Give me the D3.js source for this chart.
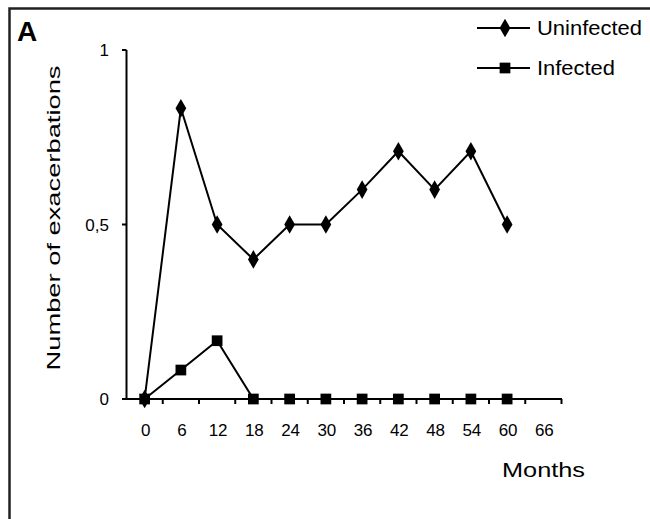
<!DOCTYPE html>
<html><head><meta charset="utf-8">
<script src="https://cdn.jsdelivr.net/npm/d3@7"></script>
<style>body{margin:0;background:#fff}svg{display:block}text{font-family:Arial,"Liberation Sans",sans-serif;fill:#000}</style>
</head><body><svg id="c" width="650" height="519"></svg>
<script>
const months = [0, 6, 12, 18, 24, 30, 36, 42, 48, 54, 60, 66];
const uninfected = [0, 0.833, 0.5, 0.4, 0.5, 0.5, 0.6, 0.71, 0.6, 0.71, 0.5];
const infected = [0, 0.083, 0.167, 0, 0, 0, 0, 0, 0, 0, 0];
const yTicks = [0, 0.5, 1];
const yTickLabels = ["0", "0,5", "1"];
const seriesNames = ["Uninfected", "Infected"];

const svg = d3.select("#c");
svg.append("rect").attr("x", 9.5).attr("y", 8.5).attr("width", 700).attr("height", 600)
  .attr("fill", "none").attr("stroke", "#222").attr("stroke-width", 2.5);

const x = d3.scaleBand().domain(months).range([126.5, 561.5]).paddingInner(0).paddingOuter(0);
const y = d3.scaleLinear().domain([0, 1]).range([399, 50]);
const cx = m => x(m) + x.bandwidth() / 2;

// axes
const g = svg.append("g");
g.append("line").attr("x1", 126.5).attr("x2", 126.5).attr("y1", y(1)).attr("y2", y(0)).attr("stroke", "#000").attr("stroke-width", 2);
g.append("line").attr("x1", 122).attr("x2", 562).attr("y1", y(0)).attr("y2", y(0)).attr("stroke", "#000").attr("stroke-width", 2);
yTicks.forEach((t, i) => {
  g.append("line").attr("x1", 122).attr("x2", 126.5).attr("y1", y(t)).attr("y2", y(t)).attr("stroke", "#000").attr("stroke-width", 2);
  g.append("text").attr("x", 109).attr("y", y(t) + 6).attr("text-anchor", "end").attr("font-size", 17).text(yTickLabels[i]);
});
months.forEach(m => {
  const xe = x(m) + x.bandwidth();
  g.append("line").attr("x1", xe).attr("x2", xe).attr("y1", y(0)).attr("y2", y(0) + 5).attr("stroke", "#000").attr("stroke-width", 2);
  g.append("text").attr("x", cx(m) + 1).attr("y", 436).attr("text-anchor", "middle").attr("font-size", 17).text(m);
});

svg.append("text").attr("x", 502).attr("y", 477).attr("font-size", 20).attr("textLength", 83).attr("lengthAdjust", "spacingAndGlyphs").text("Months");
svg.append("text").attr("transform", "translate(60,218) rotate(-90)").attr("text-anchor", "middle")
  .attr("font-size", 19).attr("textLength", 305).attr("lengthAdjust", "spacingAndGlyphs").text("Number of exacerbations");
svg.append("text").attr("x", 17).attr("y", 41).attr("font-size", 28).attr("font-weight", "bold").text("A");

const line = d3.line().x((d, i) => cx(months[i])).y(d => y(d));
const diamond = d3.symbol().type(d3.symbolDiamond).size(100);
const square = d3.symbol().type(d3.symbolSquare).size(115);

function drawSeries(vals, sym) {
  svg.append("path").datum(vals).attr("d", line).attr("fill", "none").attr("stroke", "#000").attr("stroke-width", 2);
  svg.selectAll(null).data(vals).enter().append("path")
    .attr("transform", (d, i) => `translate(${cx(months[i])},${y(d)})`)
    .attr("d", sym).attr("fill", "#000");
}
drawSeries(uninfected, diamond);
drawSeries(infected, square);

// legend
const leg = [[seriesNames[0], diamond, 28, 105], [seriesNames[1], square, 68, 78]];
leg.forEach(([name, sym, ly, tl]) => {
  svg.append("line").attr("x1", 477).attr("x2", 530).attr("y1", ly).attr("y2", ly).attr("stroke", "#000").attr("stroke-width", 2);
  svg.append("path").attr("transform", `translate(505,${ly})`).attr("d", sym).attr("fill", "#000");
  svg.append("text").attr("x", 537).attr("y", ly + 7).attr("font-size", 20).attr("textLength", tl).attr("lengthAdjust", "spacingAndGlyphs").text(name);
});
</script></body></html>
